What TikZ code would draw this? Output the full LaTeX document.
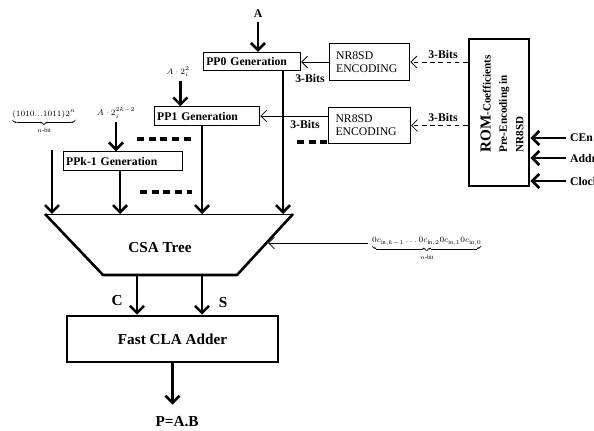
\documentclass[tikz,border=0pt]{standalone}
\usepackage{amsmath}
\usepackage{fontspec}
\setmainfont{Liberation Serif}
\usetikzlibrary{arrows.meta}

\begin{document}
\begin{tikzpicture}[x=0.03cm, y=-0.03cm,
        genbox/.style={draw, line width=0.9pt, minimum height=0.55cm, inner xsep=2.5pt, inner ysep=1pt, align=left, font=\fontsize{10}{12}\selectfont\bfseries},
        encbox/.style={draw, line width=0.9pt, inner xsep=6pt, align=left, font=\fontsize{10}{11}\selectfont},
        bigarrow/.style={line width=2.2pt, -{Straight Barb[length=6pt,width=12pt]}},
        thinarrow/.style={line width=0.7pt, -{Straight Barb[length=5pt,width=10pt]}},
        bitarrow/.style={thinarrow, dash pattern=on 4pt off 3pt},
        gapline/.style={line width=3pt, dash pattern=on 6pt off 4pt},
        bits/.style={font=\fontsize{10}{12}\selectfont\bfseries},
        big/.style={font=\fontsize{13}{15}\selectfont\bfseries},
        small/.style={font=\fontsize{7.5}{9}\selectfont}]
        \useasboundingbox (0,0) rectangle (594,431);
        \node[bits] (A) at (258,14) {A};
        \node[genbox, text width=78pt] (pp0) at (252,61.5) {PP0 Generation};
        \node[genbox, text width=85pt] (pp1) at (207,116) {PP1 Generation};
        \node[genbox, text width=97pt] (ppk) at (123,161) {PPk-1 Generation};
        \node[encbox, text width=57pt, minimum height=32pt] (enc0) at (369.5,62) {NR8SD\\ENCODING};
        \node[encbox, text width=58pt, minimum height=30pt] (enc1) at (369.5,125.5) {NR8SD\\ENCODING};
        \node[draw, line width=2.4pt, minimum width=1.8cm, minimum height=4.41cm] (rom) at (499,112.5) {};
        \node[rotate=90, align=left, font=\fontsize{9.5}{14}\selectfont\bfseries] (romtext) at (502,104) {{\fontsize{13}{14}\selectfont ROM}-Coefficients\\Pre-Encoding in\\NR8SD};
        \node[small] (a2) at (178,72) {$A\cdot 2^{2}_{i}$};
        \node[small] (a2k) at (116,113) {$A\cdot 2^{2k-2}_{i}$};
        \node[small] (lsb) at (44,122) {$\underbrace{(1010...1011)2^n}_{n\text{-bit}}$};
        \node[small, anchor=west] (cin) at (368,249) {$\underbrace{0c_{\mathrm{in},k-1}\ldots 0c_{\mathrm{in},2}0c_{\mathrm{in},1}0c_{\mathrm{in},0}}_{n\text{-bit}}$};
        \node[big] (csa) at (160,248) {CSA Tree};
        \node[big] (c) at (117,301) {C};
        \node[big] (s) at (223,303) {S};
        \node[draw, line width=2.2pt, minimum width=6.33cm, minimum height=1.38cm, big] (cla) at (172.5,339) {Fast CLA Adder};
        \node[big] (out) at (177,422) {P=A.B};
        \node[bits] (b0) at (310,78) {3-Bits};
        \node[bits] (b1) at (443,54) {3-Bits};
        \node[bits] (b2) at (305,124) {3-Bits};
        \node[bits] (b3) at (443,117) {3-Bits};
        \node[bits, anchor=west] (cen) at (566,138) {CEn};
        \node[bits, anchor=west] (addr) at (566,158) {Addr};
        \node[bits, anchor=west] (clk) at (566,181) {Clock};
        \coordinate (tl) at (45,214);
        \coordinate (tr) at (293,214);
        \coordinate (bl) at (103,275);
        \coordinate (br) at (237,275);
        \coordinate (d0) at (283,214);
        \coordinate (d1) at (202,214);
        \coordinate (d2) at (120,214);
        \coordinate (d3) at (52,214);
        \coordinate (src3) at (52,150);
        \coordinate (cout) at (137,275);
        \coordinate (sout) at (202,275);
        \coordinate (csar) at (268,243);
        \draw [line width=0.8pt] (tl) -- (tr);
        \draw [line width=2.2pt, line join=round] (tl) -- (bl) -- (br) -- (tr);
        \draw [bigarrow] (A) -- (A |- pp0.north);
        \draw [bigarrow] ([xshift=2pt]a2.south) -- ([xshift=2pt]a2.south |- pp1.north);
        \draw [bigarrow] (a2k.south) -- (a2k.south |- ppk.north);
        \draw [bigarrow] (pp0.south -| d0) -- (d0);
        \draw [bigarrow] (pp1.south -| d1) -- (d1);
        \draw [bigarrow] (ppk.south -| d2) -- (d2);
        \draw [bigarrow] (src3) -- (d3);
        \draw [bigarrow] (cout) -- (cout |- cla.north);
        \draw [bigarrow] (sout) -- (sout |- cla.north);
        \draw [bigarrow, shorten >=7pt] (cla.south) -- (cla.south |- out.north);
        \draw [thinarrow] (enc0.west) -- (enc0.west -| pp0.east);
        \draw [thinarrow] (enc1.west |- pp1.east) -- (pp1.east);
        \draw [bitarrow] (rom.west |- enc0.east) -- (enc0.east);
        \draw [bitarrow] (rom.west |- enc1.east) -- (enc1.east);
        \draw [thinarrow] (cin.west |- csar) -- (csar);
        \draw [bigarrow] (cen.west) -- (cen.west -| rom.east);
        \draw [bigarrow] (addr.west) -- (addr.west -| rom.east);
        \draw [bigarrow] (clk.west) -- (clk.west -| rom.east);
        \draw [gapline] (137,139) -- (195,139);
        \draw [gapline] (140,192) -- (192,192);
        \draw [gapline] (297,142) -- (329,142);
    \end{tikzpicture}
\end{document}
